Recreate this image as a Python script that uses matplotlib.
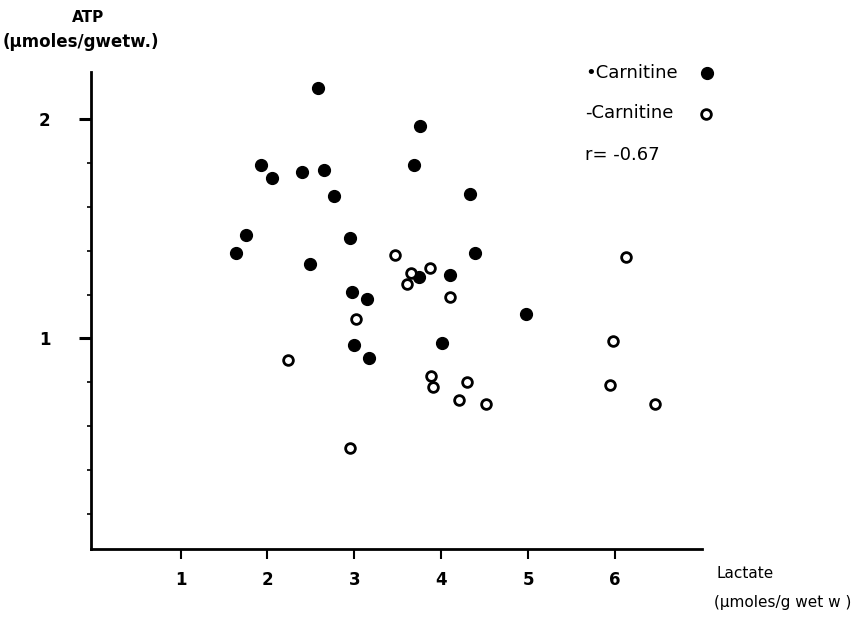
import matplotlib.pyplot as plt
import numpy as np

# +Carnitine (filled)
plus_x = [2.58, 3.75, 1.93, 2.05, 2.40, 2.65, 3.69, 2.77, 4.33, 1.75, 1.64,
          2.95, 2.49, 2.97, 3.14, 4.39, 4.10, 3.74, 4.97, 4.01, 3.00, 3.17]
plus_y = [2.14, 1.97, 1.79, 1.73, 1.76, 1.77, 1.79, 1.65, 1.66, 1.47, 1.39,
          1.46, 1.34, 1.21, 1.18, 1.39, 1.29, 1.28, 1.11, 0.98, 0.97, 0.91]

# -Carnitine (open)
minus_x = [3.47, 3.65, 3.60, 3.87, 4.10, 3.02, 2.24, 3.88, 3.91, 4.30, 4.20,
           4.52, 2.95, 6.12, 5.98, 5.94, 6.46]
minus_y = [1.38, 1.30, 1.25, 1.32, 1.19, 1.09, 0.90, 0.83, 0.78, 0.80, 0.72,
           0.70, 0.50, 1.37, 0.99, 0.79, 0.70]

x_ticks = [1, 2, 3, 4, 5, 6]
y_ticks = [1, 2]

fig = plt.figure(figsize=(8.62, 6.22), dpi=100)
ax = fig.add_axes([0.1056, 0.1174, 0.7088, 0.7668])

ax.plot(plus_x, plus_y, 'o', color='black', markersize=8.5, linestyle='none')
ax.plot(minus_x, minus_y, 'o', markerfacecolor='white', markeredgecolor='black',
        markeredgewidth=2.0, markersize=7, linestyle='none')

ax.set_xlim(-0.03, 7.0)
ax.set_ylim(0.04, 2.215)

for side in ['top', 'right']:
    ax.spines[side].set_visible(False)
for side in ['left', 'bottom']:
    ax.spines[side].set_linewidth(2.0)

ax.set_xticks(x_ticks)
ax.set_yticks(y_ticks)
ax.set_yticks(np.arange(0.2, 2.2, 0.2), minor=True)
ax.tick_params(axis='x', direction='out', length=7, width=1.5, labelsize=12, pad=9)
ax.tick_params(axis='y', direction='out', length=9, width=2.2, labelsize=12, pad=20)
ax.tick_params(axis='y', which='minor', direction='out', length=3, width=1.2)
for lab in ax.get_xticklabels() + ax.get_yticklabels():
    lab.set_fontweight('bold')

# axis titles
fig.text(88 / 862, 1 - 18 / 622, 'ATP', fontsize=11, fontweight='bold', ha='center', va='center')
fig.text(3 / 862, 1 - 42 / 622, '(µmoles/gwetw.)', fontsize=12, fontweight='bold',
         ha='left', va='center')
fig.text(717 / 862, 1 - 573 / 622, 'Lactate', fontsize=11, ha='left', va='center')
fig.text(714 / 862, 1 - 603 / 622, '(µmoles/g wet w )', fontsize=11, ha='left', va='center')

# legend
fig.text(585 / 862, 1 - 73 / 622, '•Carnitine', fontsize=13, ha='left', va='center')
fig.text(585 / 862, 1 - 113 / 622, '-Carnitine', fontsize=13, ha='left', va='center')
fig.text(585 / 862, 1 - 155 / 622, 'r= -0.67', fontsize=13, ha='left', va='center')
fig.lines.append(plt.Line2D([707 / 862], [1 - 73 / 622], marker='o', color='black',
                            markersize=8.5, transform=fig.transFigure))
fig.lines.append(plt.Line2D([706 / 862], [1 - 114 / 622], marker='o', markerfacecolor='white',
                            markeredgecolor='black', markeredgewidth=2.0, markersize=7,
                            transform=fig.transFigure))

fig.savefig('out.png', dpi=100)
